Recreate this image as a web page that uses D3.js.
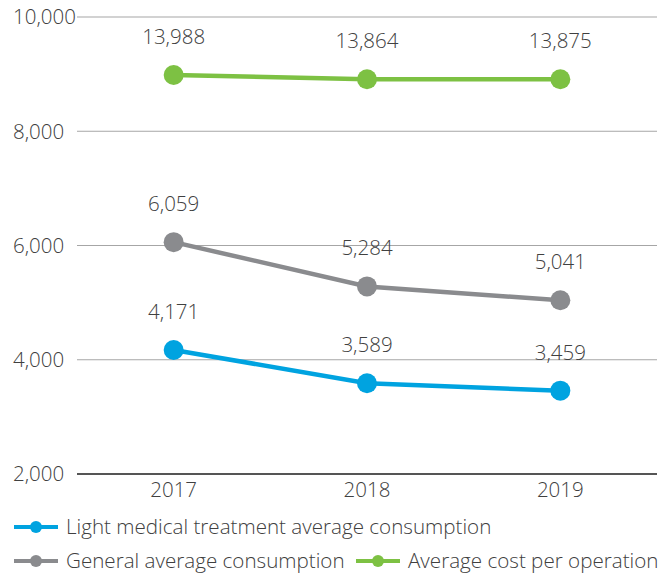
<!DOCTYPE html>
<html>
<head>
<meta charset="utf-8">
<script src="https://cdn.jsdelivr.net/npm/d3@7"></script>
<style>
  body { margin: 0; background: #fff; }
  text { font-family: "Open Sans", "Noto Sans", sans-serif; font-weight: 300; fill: #404040; }
</style>
</head>
<body>
<div id="chart"></div>
<script>
// Data
var years = ["2017", "2018", "2019"];
var lightValues = [4171, 3589, 3459];
var generalValues = [6059, 5284, 5041];
var costValues = [13988, 13864, 13875];
var costPlotted = [8985, 8910, 8910];
var yTicks = [2000, 4000, 6000, 8000, 10000];

var width = 669;
var height = 573;

var plotLeft = 77;
var plotRight = 657;
var plotTop = 17;
var plotBottom = 474;

var svg = d3.select("#chart")
  .append("svg")
  .attr("width", width)
  .attr("height", height);

var xScale = d3.scalePoint()
  .domain(years)
  .range([plotLeft, plotRight])
  .padding(0.5);

var yScale = d3.scaleLinear()
  .domain([2000, 10000])
  .range([plotBottom, plotTop]);

var fmt = d3.format(",");

// Gridlines
svg.selectAll(".grid")
  .data(yTicks.filter(function(d) { return d > 2000; }))
  .enter()
  .append("line")
  .attr("x1", plotLeft)
  .attr("x2", plotRight)
  .attr("y1", function(d) { return yScale(d); })
  .attr("y2", function(d) { return yScale(d); })
  .attr("stroke", "#a6a6a6")
  .attr("stroke-width", 1.2);

// Baseline
svg.append("line")
  .attr("x1", plotLeft)
  .attr("x2", plotRight)
  .attr("y1", yScale(2000))
  .attr("y2", yScale(2000))
  .attr("stroke", "#555")
  .attr("stroke-width", 2);

// Y labels
svg.selectAll(".ylab")
  .data(yTicks)
  .enter()
  .append("text")
  .attr("x", 13)
  .attr("y", function(d) { return yScale(d); })
  .attr("dy", "0.36em")
  .attr("font-size", "20.5px")
  .text(function(d) { return fmt(d); });

// X labels
svg.selectAll(".xlab")
  .data(years)
  .enter()
  .append("text")
  .attr("x", function(d) { return xScale(d); })
  .attr("y", 497)
  .attr("text-anchor", "middle")
  .attr("font-size", "20.5px")
  .text(function(d) { return d; });

var series = [
  { name: "Light medical treatment average consumption", color: "#00a3e0", plot: lightValues, labels: lightValues },
  { name: "General average consumption", color: "#8a8b8e", plot: generalValues, labels: generalValues },
  { name: "Average cost per operation", color: "#7dc143", plot: costPlotted, labels: costValues }
];

var line = d3.line()
  .x(function(d, i) { return xScale(years[i]); })
  .y(function(d) { return yScale(d); });

series.forEach(function(s) {
  svg.append("path")
    .attr("d", line(s.plot))
    .attr("fill", "none")
    .attr("stroke", s.color)
    .attr("stroke-width", 4.5);

  svg.selectAll(null)
    .data(s.plot)
    .enter()
    .append("circle")
    .attr("cx", function(d, i) { return xScale(years[i]); })
    .attr("cy", function(d) { return yScale(d); })
    .attr("r", 10)
    .attr("fill", s.color);

  svg.selectAll(null)
    .data(s.plot)
    .enter()
    .append("text")
    .attr("x", function(d, i) { return xScale(years[i]); })
    .attr("y", function(d) { return yScale(d) - 31; })
    .attr("text-anchor", "middle")
    .attr("font-size", "20.5px")
    .text(function(d, i) { return fmt(s.labels[i]); });
});

// Legend
var legendPos = [
  { x: 14, y: 527 },
  { x: 14, y: 561 },
  { x: 356, y: 561 }
];

series.forEach(function(s, i) {
  var p = legendPos[i];
  var g = svg.append("g").attr("transform", "translate(" + p.x + "," + p.y + ")");
  g.append("line")
    .attr("x1", 0).attr("x2", 44)
    .attr("y1", 0).attr("y2", 0)
    .attr("stroke", s.color)
    .attr("stroke-width", 4);
  g.append("circle")
    .attr("cx", 22).attr("cy", 0)
    .attr("r", 6)
    .attr("fill", s.color);
  g.append("text")
    .attr("x", 52)
    .attr("y", 0)
    .attr("dy", "0.36em")
    .attr("font-size", "20.6px")
    .text(s.name);
});
</script>
</body>
</html>
